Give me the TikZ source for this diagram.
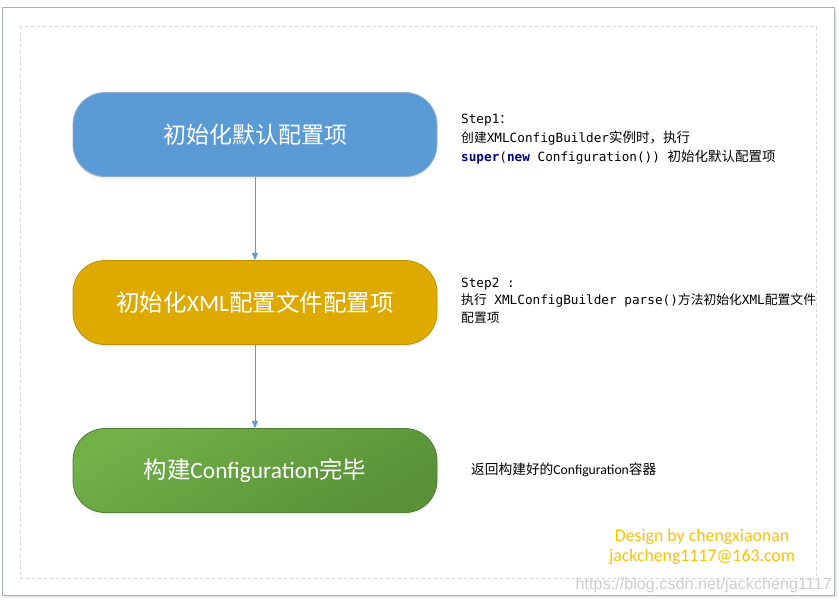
\documentclass[tikz,border=0pt]{standalone}
\usepackage{fontspec}
\usetikzlibrary{arrows.meta,shadows}
\newfontfamily\zhfont{Noto Sans CJK SC}
\newfontfamily\calib{Carlito}
\newfontfamily\monof{DejaVu Sans Mono}
\newfontfamily\arialf{Liberation Sans}
\definecolor{bluebox}{RGB}{91,155,213}
\definecolor{bluebord}{RGB}{150,175,200}
\definecolor{goldbox}{RGB}{222,170,0}
\definecolor{goldbord}{RGB}{190,145,0}
\definecolor{greenA}{RGB}{114,176,72}
\definecolor{greenB}{RGB}{88,145,56}
\definecolor{greenbord}{RGB}{80,126,50}
\definecolor{arrowc}{RGB}{91,155,213}
\definecolor{kw}{RGB}{0,0,128}
\definecolor{signc}{RGB}{255,192,0}
\definecolor{outerc}{RGB}{170,176,184}
\definecolor{dashc}{RGB}{210,210,210}
\definecolor{wmc}{RGB}{205,205,205}
\tikzset{
  flowbox/.style={rounded corners=32pt, minimum width=364pt, minimum height=84pt,
    text=white, inner sep=0pt, line width=0.8pt},
  conn/.style={arrowc, line width=0.9pt, -{Triangle[width=6pt,length=7pt]}},
  note/.style={anchor=base west, inner sep=0pt, text=black},
  softshadow/.style={drop shadow={opacity=0.15,shadow xshift=0pt,shadow yshift=-2pt}},
}
\newcommand{\mtext}[1]{{\monof\fontsize{12.7}{15}\selectfont #1}}
\newcommand{\ztext}[1]{{\zhfont\fontsize{12.8}{15}\selectfont #1}}
\newcommand{\zbig}[1]{{\zhfont\fontsize{13.5}{15}\selectfont #1}}
\begin{document}
\begin{tikzpicture}[x=1pt,y=-1pt]
\useasboundingbox (0,0) rectangle (839,602);
\fill[white] (0,0) rectangle (839,602);
% outer frame
\fill[gray!15] (4,10) rectangle (837,598);
\draw[outerc, fill=white, line width=1pt] (2,8) rectangle (834,595);
% dashed inner frame
\draw[dashc, dashed, line width=0.8pt] (20,26) rectangle (816,578);

% boxes
\node[flowbox, draw=bluebord, fill=bluebox, softshadow] (b1) at (255,134.5)
  {\zhfont\fontsize{23}{26}\selectfont 初始化默认配置项};
\node[flowbox, draw=goldbord, fill=goldbox, softshadow] (b2) at (255,302.5)
  {\zhfont\fontsize{23.5}{26}\selectfont 初始化{\calib XML}配置文件配置项};
\node[flowbox, draw=greenbord, top color=greenA, bottom color=greenB, shading angle=30, softshadow] (b3) at (255,470.5)
  {\zhfont\fontsize{23.4}{26}\selectfont 构建{\calib Configuration}完毕};

\draw[conn] (b1.south) -- (b2.north);
\draw[conn] (b2.south) -- (b3.north);

% step 1 notes
\node[note] (s1a) at (461,124) {\mtext{Step1}\ztext{：}};
\node[note] (s1b) at (461,142.5) {\ztext{创建}\mtext{XMLConfigBuilder}\zbig{实例时，执行}};
\node[note] (s1c) at (461,161) {\mtext{\textcolor{kw}{\bfseries super}(\textcolor{kw}{\bfseries new} Configuration()) }\zbig{初始化默认配置项}};

% step 2 notes
\node[note] (s2a) at (461,287) {\mtext{Step2 :}};
\node[note] (s2b) at (461,304.5) {\ztext{执行}\mtext{ XMLConfigBuilder parse()}\ztext{方法初始化}\mtext{XML}\ztext{配置文件}};
\node[note] (s2c) at (461,322) {\ztext{配置项}};

% step 3 note
\node[note] (s3) at (471,474) {\zhfont\fontsize{13.7}{15}\selectfont 返回构建好的{\calib Configuration}容器};

% signature
\node[text=signc, inner sep=0pt] (sig1) at (702,537) {\calib\fontsize{17.8}{19}\selectfont Design by chengxiaonan};
\node[text=signc, inner sep=0pt] (sig2) at (702,557) {\calib\fontsize{17.8}{19}\selectfont jackcheng1117@163.com};

% watermark
\node[text=wmc, anchor=base east, inner sep=0pt] (wm) at (832,589) {\arialf\fontsize{16.2}{18}\selectfont https://blog.csdn.net/jackcheng1117};
\end{tikzpicture}
\end{document}
